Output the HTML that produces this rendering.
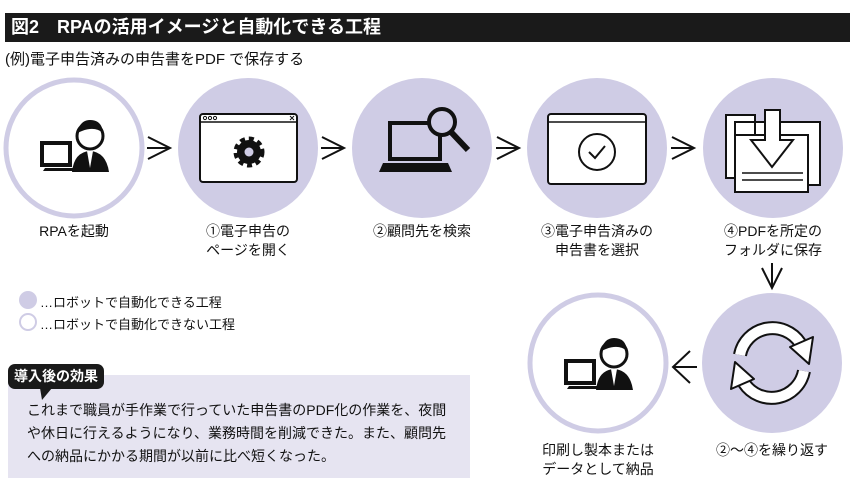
<!DOCTYPE html>
<html><head><meta charset="utf-8"><style>
body{margin:0;width:850px;height:491px;background:#fff;overflow:hidden;position:relative;font-family:"Liberation Sans","Noto Sans CJK JP",sans-serif;color:#111}
.a{position:absolute;white-space:nowrap}
.lbl{position:absolute;text-align:center;font-size:14px;line-height:19px;width:170px;transform:translateX(-85px)}
</style></head><body>
<div class="a" style="left:5px;top:13px;width:845px;height:29px;background:#1a1a1a"></div>
<div class="a" style="left:11px;top:15px;color:#fff;font-size:18px;font-weight:bold;line-height:25px">図2　RPAの活用イメージと自動化できる工程</div>
<div class="a" style="left:5px;top:50px;font-size:15px;line-height:20px">(例)電子申告済みの申告書をPDF で保存する</div>

<svg class="a" style="left:0;top:0" width="850" height="491" viewBox="0 0 850 491">
<defs>
<g id="cyc"><path d="M740 358 A33 33 0 0 1 800 346" fill="none" stroke="#111" stroke-width="14"/><path d="M740 358 A33 33 0 0 1 800 346" fill="none" stroke="#fff" stroke-width="10"/><path d="M790 350 L813 340 L809 367Z" fill="#fff" stroke="#111" stroke-width="2" stroke-linejoin="round"/></g>
</defs>
<g fill="#cfcce5">
<circle cx="248" cy="148" r="70"/><circle cx="422" cy="148" r="70"/><circle cx="597" cy="148" r="70"/><circle cx="773" cy="148" r="70"/><circle cx="772" cy="363" r="70"/>
</g>
<circle cx="74" cy="148" r="68" fill="#fff" stroke="#cfcce5" stroke-width="5"/>
<circle cx="598" cy="363" r="68" fill="#fff" stroke="#cfcce5" stroke-width="5"/>
<g fill="none" stroke="#111" stroke-width="2">
<path d="M148 137 L170 148 L148 159 M147 148 H170"/>
<path d="M322 137 L344 148 L322 159 M321 148 H344"/>
<path d="M497 137 L519 148 L497 159 M496 148 H519"/>
<path d="M672 137 L694 148 L672 159 M671 148 H694"/>
<path d="M762 268 L772 288 L782 268 M772 263 V288"/>
<path d="M690 351 L673 367 L690 383 M673 367 H697"/>
</g>
<g id="p">
<rect x="42" y="143" width="28" height="22" fill="none" stroke="#111" stroke-width="4"/>
<path d="M45 168 H78 L80 171 H43Z" fill="#111"/>
<circle cx="90" cy="136" r="13" fill="#fff" stroke="#111" stroke-width="3"/>
<path d="M77 133 Q80 120 90 120 Q102 120 103 133 Q95 126 82 131Z" fill="#111"/>
<path d="M72 172 Q74 152 90 151 Q106 152 109 172Z" fill="#111"/>
<path d="M87 151 L90 168 L93 151Z" fill="#fff"/>
</g>
<use href="#p" transform="translate(524,218)"/>
<rect x="200" y="114" width="97" height="68" rx="3" fill="#fff" stroke="#111" stroke-width="2"/>
<line x1="200" y1="122" x2="297" y2="122" stroke="#111" stroke-width="1.5"/>
<g fill="none" stroke="#111" stroke-width="1"><circle cx="205" cy="118" r="1.6"/><circle cx="210" cy="118" r="1.6"/><circle cx="215" cy="118" r="1.6"/><circle cx="553" cy="118" r="1.6"/><circle cx="558" cy="118" r="1.6"/><circle cx="563" cy="118" r="1.6"/><path d="M290 116 L294 120 M294 116 L290 120 M637 116 L641 120 M641 116 L637 120"/></g>
<circle cx="249" cy="152" r="12" fill="#111" stroke="#111" stroke-width="7" stroke-dasharray="4.5 3.5"/>
<circle cx="249" cy="152" r="4.5" fill="#cfcce5"/>
<rect x="390" y="123" width="50" height="36" fill="none" stroke="#111" stroke-width="4"/>
<path d="M383 163 H448 L452 172 H379Z" fill="#111"/>
<circle cx="442" cy="122" r="13" fill="#cfcce5" stroke="#111" stroke-width="4"/>
<line x1="451" y1="132" x2="468" y2="150" stroke="#111" stroke-width="6"/>
<rect x="548" y="114" width="98" height="70" rx="3" fill="#fff" stroke="#111" stroke-width="2"/>
<line x1="548" y1="122" x2="646" y2="122" stroke="#111" stroke-width="1.5"/>
<circle cx="597" cy="152" r="18" fill="none" stroke="#111" stroke-width="2"/>
<path d="M589 152 L595 158 L605 146" fill="none" stroke="#111" stroke-width="2"/>
<path d="M726 115 H755 V178 H726Z M735 122 H820 V185 H735Z" fill="#fff" stroke="#111" stroke-width="2"/>
<rect x="735" y="135" width="73" height="57" fill="#fff" stroke="#111" stroke-width="2"/>
<path d="M765 110 H780 V140 H793 L772 167 L751 140 H765Z" fill="#fff" stroke="#111" stroke-width="2"/>
<line x1="742" y1="173" x2="803" y2="173" stroke="#111" stroke-width="1.5"/><line x1="742" y1="180" x2="803" y2="180" stroke="#111" stroke-width="1.5"/>
<use href="#cyc" transform="translate(0,-3)"/>
<use href="#cyc" transform="rotate(180 772 363) translate(0,-3)"/>
<circle cx="28" cy="300" r="9" fill="#cfcce5"/>
<circle cx="28" cy="322" r="8" fill="#fff" stroke="#cfcce5" stroke-width="2"/>
<rect x="8" y="375" width="462" height="103" fill="#e6e4f1"/>
<rect x="8" y="364" width="96" height="25" rx="7" fill="#1a1a1a"/>
<path d="M40 388 L42 400 L52 388Z" fill="#1a1a1a"/>
</svg>
<div class="a" style="left:40px;top:292px;font-size:13px">…ロボットで自動化できる工程</div>
<div class="a" style="left:40px;top:314px;font-size:13px">…ロボットで自動化できない工程</div>
<div class="a" style="left:14px;top:366px;font-size:14px;font-weight:bold;color:#fff;line-height:20px">導入後の効果</div>
<div class="a" style="left:27px;top:399px;font-size:14px;line-height:23px">これまで職員が手作業で行っていた申告書のPDF化の作業を、夜間<br>や休日に行えるようになり、業務時間を削減できた。また、顧問先<br>への納品にかかる期間が以前に比べ短くなった。</div>
<div class="lbl" style="left:74px;top:222px">RPAを起動</div>
<div class="lbl" style="left:248px;top:222px">①電子申告の<br>ページを開く</div>
<div class="lbl" style="left:422px;top:222px">②顧問先を検索</div>
<div class="lbl" style="left:597px;top:222px">③電子申告済みの<br>申告書を選択</div>
<div class="lbl" style="left:773px;top:222px">④PDFを所定の<br>フォルダに保存</div>
<div class="lbl" style="left:598px;top:441px">印刷し製本または<br>データとして納品</div>
<div class="lbl" style="left:772px;top:441px">②〜④を繰り返す</div>
</body></html>
